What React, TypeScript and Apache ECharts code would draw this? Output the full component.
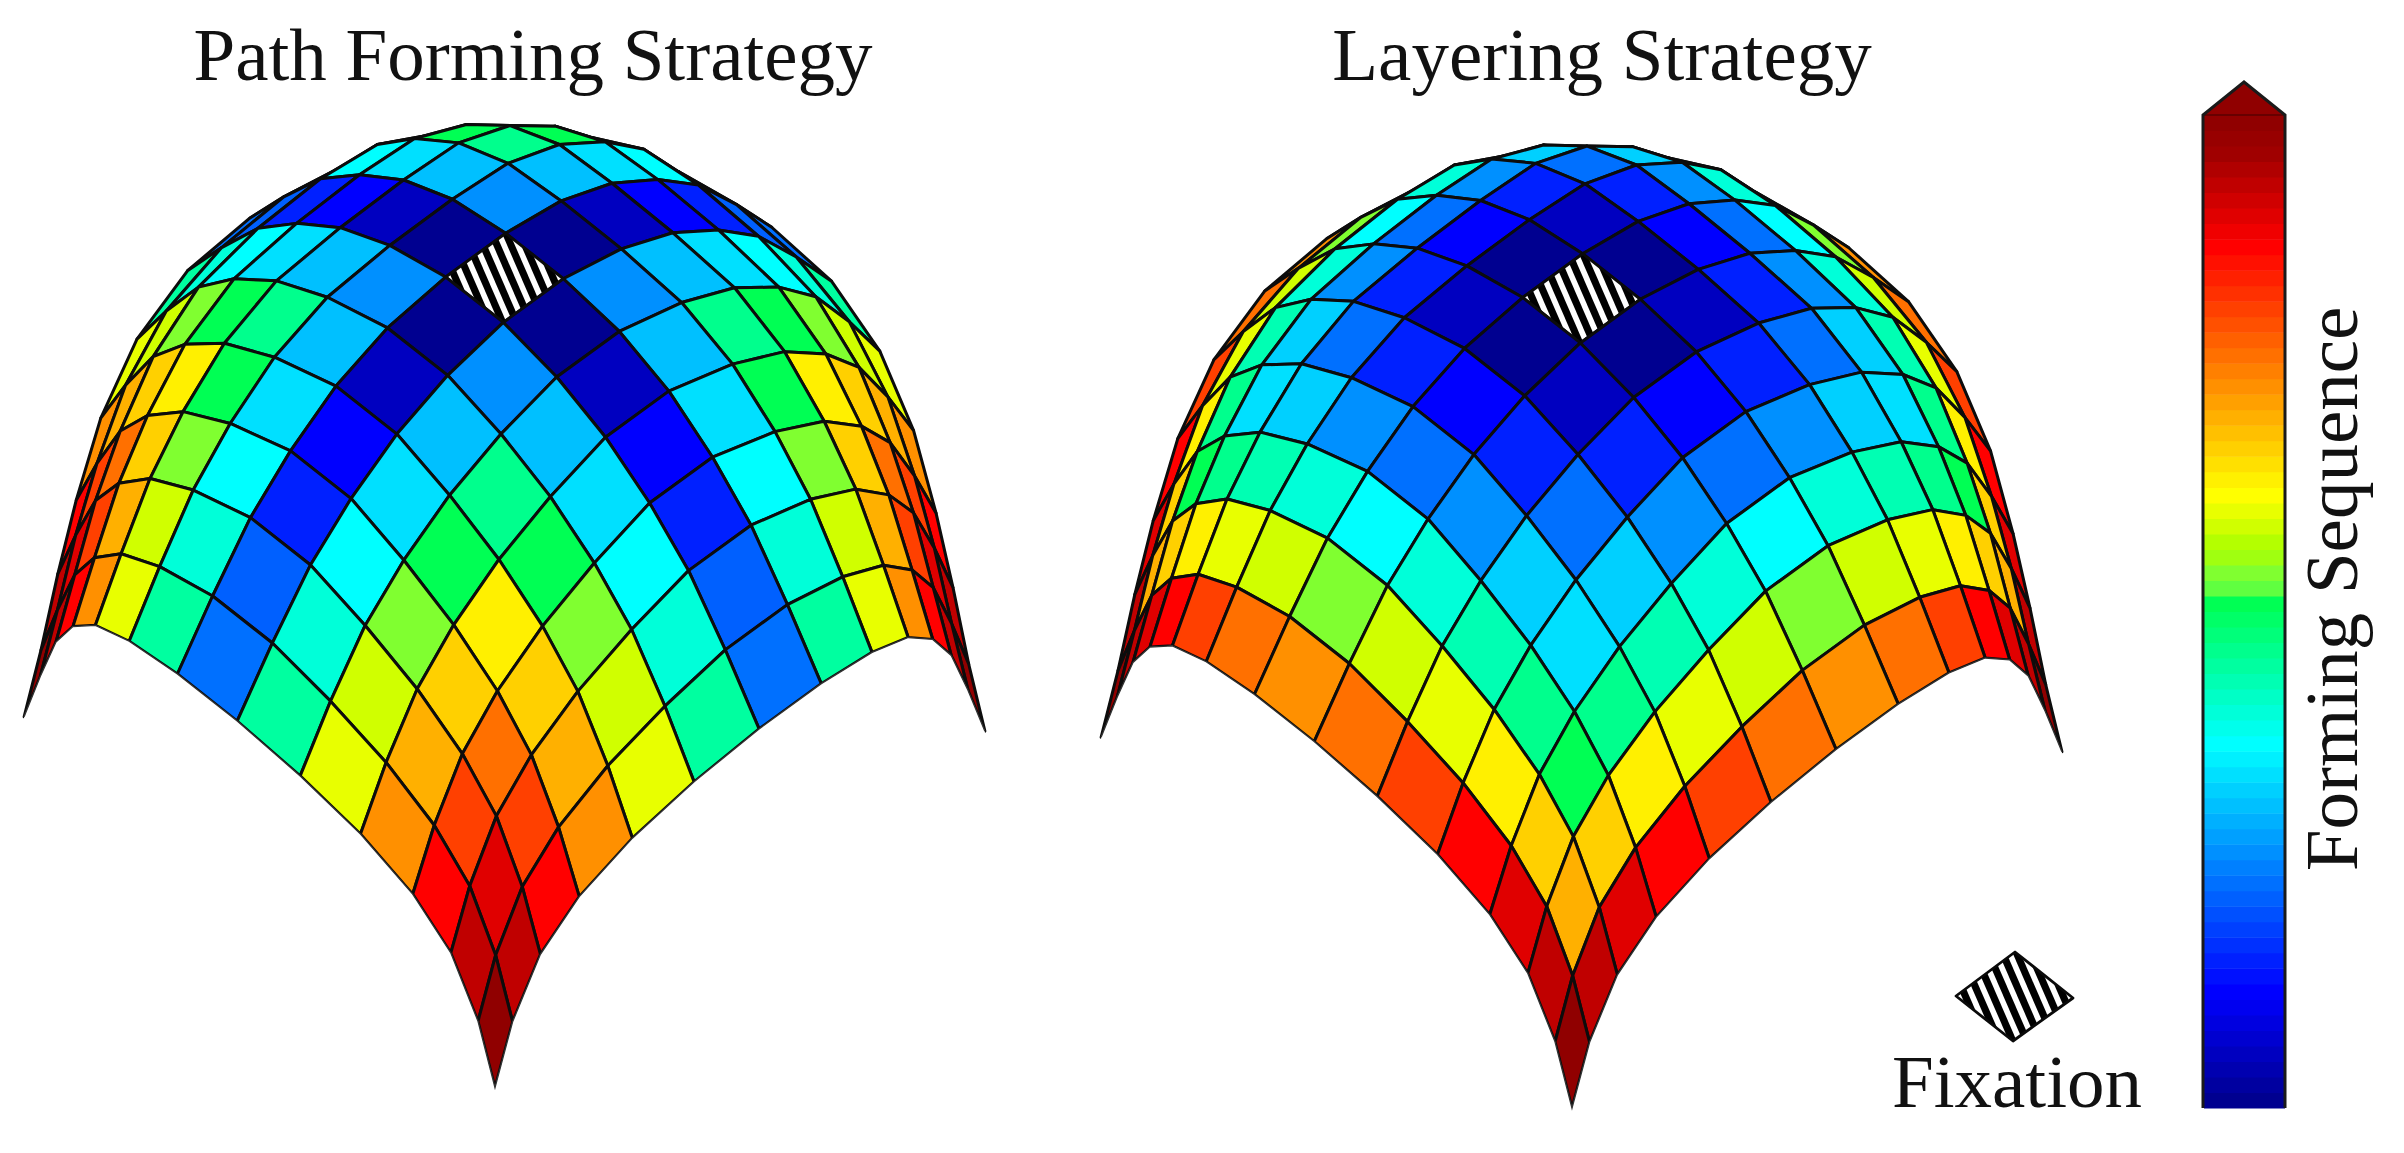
import React, { useEffect, useRef } from "react";
import * as echarts from "echarts";

// Forming sequence level (0-63) of every cell, by distance from the centre cell (rows |i-6|, columns |j-6|). -1 = fixation.
const pathRow0 = [-1, 0, 3, 7, 9, 13, 14];
const pathRow1 = [0, 16, 19, 21, 23, 25, 28];
const pathRow2 = [3, 19, 29, 32, 34, 37, 38];
const pathRow3 = [7, 21, 32, 40, 42, 44, 46];
const pathRow4 = [9, 23, 34, 42, 48, 51, 55];
const pathRow5 = [13, 25, 37, 44, 51, 57, 59];
const pathRow6 = [14, 28, 38, 46, 55, 59, 63];
const pathLevels = [pathRow0, pathRow1, pathRow2, pathRow3, pathRow4, pathRow5, pathRow6];

const layerRow0 = [-1, 0, 7, 14, 23, 34, 46];
const layerRow1 = [0, 3, 9, 16, 25, 37, 48];
const layerRow2 = [7, 9, 14, 20, 27, 38, 51];
const layerRow3 = [14, 16, 20, 21, 29, 40, 55];
const layerRow4 = [23, 25, 27, 29, 32, 42, 57];
const layerRow5 = [34, 37, 38, 40, 42, 44, 59];
const layerRow6 = [46, 48, 51, 55, 57, 59, 63];
const layerLevels = [layerRow0, layerRow1, layerRow2, layerRow3, layerRow4, layerRow5, layerRow6];

// Dome shape: 14 grid lines along one free edge.
const edgeRun = [0, 16.9, 38.8, 66.9, 105, 153, 209.8, 270.8, 327.5, 375.5, 413.6, 441.7, 463.6, 480.5];
const edgeBulge = [0, 0.4, 6, 16.4, 31, 44, 51.2, 51.2, 44, 31, 16.4, 6, 0.4, 0];
const edgeRise = [0, 82, 167, 235.5, 299, 346, 371, 371, 346, 299, 235.5, 167, 82, 0];

const titles = ["Path Forming Strategy", "Layering Strategy"];
const barTitle = "Forming Sequence";
const keyLabel = "Fixation";

const blues = ["#000090", "#0000a0", "#0000b0", "#0000c0", "#0000d0", "#0000e0", "#0000f0", "#0000ff"];
const azures = ["#0010ff", "#0020ff", "#0030ff", "#0040ff", "#0050ff", "#0060ff", "#0070ff", "#0080ff", "#0090ff", "#00a0ff", "#00b0ff", "#00c0ff", "#00d0ff", "#00e0ff", "#00f0ff", "#00ffff"];
const aquas = ["#00ffec", "#00ffd9", "#00ffc6", "#00ffb3", "#00ffa0", "#00ff8d", "#00ff7a", "#00ff67", "#00ff54"];
const limes = ["#60ff40", "#80ff30", "#a0ff10", "#b4ff00", "#d0ff00", "#e8ff00", "#ffff00"];
const ambers = ["#fff000", "#ffe000", "#ffd000", "#ffc000", "#ffb000", "#ffa000", "#ff9000", "#ff8000", "#ff7000", "#ff6000", "#ff5000", "#ff4000", "#ff3000", "#ff2000", "#ff1000", "#ff0000"];
const reds = ["#f00000", "#e00000", "#d00000", "#c00000", "#b00000", "#a00000", "#980000", "#900000"];
const palette = [...blues, ...azures, ...aquas, ...limes, ...ambers, ...reds];

const FONT = '75px "Liberation Serif"';
const LAST = 13;
const RUN = 480.5;
const SIN_EL = 0.757;
const COS_EL = 0.654;
const SIN_AZ = 0.0198;
const COS_AZ = Math.sqrt(1 - SIN_AZ * SIN_AZ);
const domeCentres = [[504.5, 724], [1581.5, 744.5]];
const keyQuad = [[2015, 952], [2073, 998], [2013, 1041], [1956, 996]];
const PAGE_BOTTOM = 1153;

function project(dome: number, i: number, j: number) {
  const wi = i / LAST;
  const wj = j / LAST;
  const pull = (w: number) => Math.pow(1 - Math.abs(2 * w - 1), 2.5);
  const ai = edgeRun[i] + edgeBulge[j] * (2 * wi - 1) + 25.6 * Math.sin(2 * Math.PI * wi) * pull(wj);
  const aj = edgeRun[j] + edgeBulge[i] * (2 * wj - 1) + 25.6 * Math.sin(2 * Math.PI * wj) * pull(wi);
  const gx = aj - ai;
  const gy = ai + aj - RUN;
  const q = (edgeRise[i] * edgeRise[j]) / 371;
  const z = edgeRise[i] + edgeRise[j] - 60 * Math.pow(q / 371, 2.3);
  const [cx, cy] = domeCentres[dome];
  const depth = gy * COS_AZ - gx * SIN_AZ;
  const lift = depth > 0 ? 50 * Math.pow(depth / RUN, 3) : 0;
  return [cx + gx * COS_AZ + gy * SIN_AZ, cy - SIN_EL * depth - COS_EL * z - lift];
}

function cutHalf(poly: number[][], nx: number, ny: number, d: number, keepAbove: boolean) {
  const out: number[][] = [];
  const side = (p: number[]) => (p[0] * nx + p[1] * ny - d) * (keepAbove ? 1 : -1);
  poly.forEach((p, k) => {
    const q = poly[(k + 1) % poly.length];
    const sp = side(p);
    const sq = side(q);
    if (sp >= 0) out.push(p);
    if (sp * sq < 0) {
      const t = sp / (sp - sq);
      out.push([p[0] + (q[0] - p[0]) * t, p[1] + (q[1] - p[1]) * t]);
    }
  });
  return out;
}

function hatched(quad: number[][], z2: number) {
  const nx = 0.917;
  const ny = -0.398;
  const pitch = 12.8;
  const ds = quad.map((p) => p[0] * nx + p[1] * ny);
  const lo = Math.min(...ds);
  const hi = Math.max(...ds);
  const children: any[] = [
    { type: "polygon", z2, shape: { points: quad }, style: { fill: "#ffffff", stroke: "none" } },
  ];
  for (let d = lo + 5; d < hi; d += pitch) {
    const band = cutHalf(cutHalf(quad, nx, ny, d, true), nx, ny, d + pitch * 0.56, false);
    if (band.length > 2) {
      children.push({ type: "polygon", z2: z2 + 1, shape: { points: band }, style: { fill: "#000000", stroke: "none" } });
    }
  }
  children.push({ type: "polygon", z2: z2 + 2, shape: { points: quad }, style: { fill: "none", stroke: "#0a0a0a", lineWidth: 2.8, lineJoin: "round" } });
  return { type: "group", children };
}

function buildCells(levels: number[][]) {
  const cells: number[][] = [];
  for (let i = 0; i < LAST; i++) {
    for (let j = 0; j < LAST; j++) {
      cells.push([i, j, levels[Math.abs(i - 6)][Math.abs(j - 6)]]);
    }
  }
  return cells.sort((a, b) => b[0] + b[1] - a[0] - a[1]);
}

function domeSeries(dome: number, levels: number[][]) {
  return {
    type: "custom",
    coordinateSystem: "cartesian2d",
    xAxisIndex: 0,
    yAxisIndex: 0,
    silent: true,
    clip: false,
    data: buildCells(levels),
    renderItem: (_p: any, api: any) => {
      const i = api.value(0);
      const j = api.value(1);
      const level = api.value(2);
      const quad = [[i, j], [i + 1, j], [i + 1, j + 1], [i, j + 1]].map(([a, b]) => api.coord(project(dome, a, b)));
      const z2 = 4 * (26 - i - j);
      if (level < 0) return hatched(quad, z2);
      return {
        type: "polygon",
        z2,
        shape: { points: quad },
        style: { fill: palette[level], stroke: "#0c0c0c", lineWidth: 3, lineJoin: "round" },
      };
    },
  };
}

function edgeSeries(dome: number) {
  return {
    type: "custom",
    coordinateSystem: "cartesian2d",
    xAxisIndex: 0,
    yAxisIndex: 0,
    silent: true,
    clip: false,
    z: 3,
    data: [[dome, 0]],
    renderItem: (_p: any, api: any) => {
      const pts: number[][] = [];
      for (let i = LAST; i >= 0; i--) pts.push(api.coord(project(dome, i, 0)));
      for (let j = 1; j <= LAST; j++) pts.push(api.coord(project(dome, 0, j)));
      const right = pts[pts.length - 1];
      const left = pts[0];
      const outside = [...pts, api.coord([right[0], PAGE_BOTTOM]), api.coord([left[0], PAGE_BOTTOM])];
      return {
        type: "group",
        children: [
          { type: "polygon", shape: { points: outside }, style: { fill: "#ffffff", stroke: "none" } },
          { type: "polyline", shape: { points: pts }, style: { fill: "none", stroke: "#333333", lineWidth: 1.3 } },
        ],
      };
    },
  };
}

export default function App() {
  const ref = useRef<HTMLDivElement>(null);
  useEffect(() => {
    const chart = echarts.init(ref.current!, undefined, { renderer: "svg" });
    const hidden = { show: false };
    chart.setOption({
      animation: false,
      backgroundColor: "#ffffff",
      grid: [
        { left: 0, top: 0, width: 2404, height: 1153 },
        { left: 2204, top: 115, width: 81, height: 993 },
      ],
      xAxis: [
        { type: "value", min: 0, max: 2404, ...hidden },
        { type: "value", min: 0, max: 1, gridIndex: 1, ...hidden },
      ],
      yAxis: [
        { type: "value", min: 0, max: 1153, inverse: true, ...hidden },
        { type: "value", min: 0, max: palette.length, gridIndex: 1, ...hidden },
      ],
      series: [
        domeSeries(0, pathLevels),
        domeSeries(1, layerLevels),
        edgeSeries(0),
        edgeSeries(1),
        {
          type: "custom",
          coordinateSystem: "cartesian2d",
          xAxisIndex: 1,
          yAxisIndex: 1,
          silent: true,
          clip: false,
          z: 4,
          data: palette.map((_, k) => [0, k]),
          renderItem: (_p: any, api: any) => {
            const k = api.value(1);
            const a = api.coord([0, k]);
            const b = api.coord([1, k + 1]);
            return {
              type: "rect",
              shape: { x: a[0], y: b[1], width: b[0] - a[0], height: a[1] - b[1] + 0.5 },
              style: { fill: palette[k], stroke: "none" },
            };
          },
        },
        {
          type: "custom",
          coordinateSystem: "cartesian2d",
          xAxisIndex: 0,
          yAxisIndex: 0,
          silent: true,
          clip: false,
          z: 5,
          data: [[keyQuad[0][0], keyQuad[0][1]]],
          renderItem: (_p: any, api: any) => hatched(keyQuad.map((p) => api.coord(p)), 1),
        },
      ],
      graphic: [
        { type: "polygon", z: 20, shape: { points: [[2203, 115], [2244, 82], [2285, 115]] }, style: { fill: palette[63], stroke: "none" } },
        { type: "line", z: 21, shape: { x1: 2203, y1: 115, x2: 2285, y2: 115 }, style: { stroke: "#5a0000", lineWidth: 1.5 } },
        { type: "polyline", z: 22, shape: { points: [[2203, 1108], [2203, 115], [2244, 82], [2285, 115], [2285, 1108]] }, style: { fill: "none", stroke: "#1a1a1a", lineWidth: 3, lineJoin: "miter" } },
        { type: "text", z: 30, x: 533, y: 54, style: { text: titles[0], font: FONT, fill: "#111111", textAlign: "center", textVerticalAlign: "middle" } },
        { type: "text", z: 30, x: 1602, y: 54, style: { text: titles[1], font: FONT, fill: "#111111", textAlign: "center", textVerticalAlign: "middle" } },
        { type: "text", z: 30, x: 2017, y: 1081, style: { text: keyLabel, font: FONT, fill: "#111111", textAlign: "center", textVerticalAlign: "middle" } },
        { type: "text", z: 30, x: 2331, y: 589, rotation: Math.PI / 2, style: { text: barTitle, font: FONT, fill: "#111111", textAlign: "center", textVerticalAlign: "middle" } },
      ],
    });
    return () => chart.dispose();
  }, []);
  return <div ref={ref} style={{ position: "absolute", left: 0, top: 0, width: 2404, height: 1153, filter: "blur(0.6px)" }} />;
}
